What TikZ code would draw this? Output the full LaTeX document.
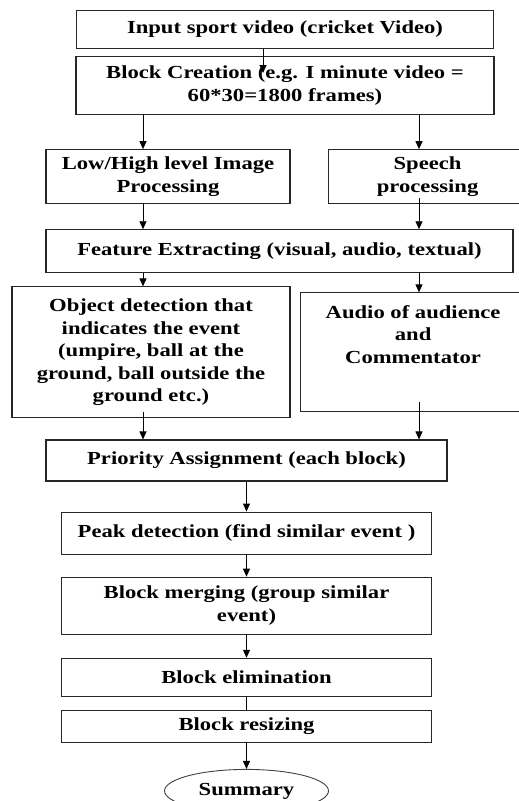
\documentclass[tikz,border=0pt]{standalone}
\usepackage{fontspec}
\setmainfont{Liberation Serif}[FakeStretch=1.23]
\usetikzlibrary{positioning, arrows.meta, shapes.geometric}

\begin{document}
\begin{tikzpicture}[
    node distance = 20pt,
    box/.style = {rectangle, draw=black!85, line width=1.1pt, align=center, inner sep=2pt, font=\fontsize{18.4}{22.5}\selectfont\bfseries},
    wide/.style = {box, minimum width=370pt},
    term/.style = {ellipse, draw=black!75, line width=0.9pt, minimum width=164pt, minimum height=43pt, inner sep=0pt, font=\fontsize{18.4}{22.5}\selectfont\bfseries},
    arrow/.style = {-{Triangle[length=8pt, width=7pt]}, line width=0.9pt},
    link/.style = {line width=0.9pt}
]
    \useasboundingbox (0,0) rectangle (519pt,-801pt);

    \node[box, minimum width=417pt, minimum height=38pt] (IN) at (285pt,-29.5pt) {Input sport video (cricket Video)};
    \node[box, below=7pt of IN, minimum width=418pt, minimum height=58pt] (BC) {Block Creation (e.g. I minute video =\\60*30=1800 frames)};

    \node[box, below right=34pt and -30pt of BC.south west, minimum width=244pt, minimum height=54pt] (IMG) {Low/High level Image\\Processing};
    \node[box, right=37pt of IMG, minimum width=199pt, minimum height=54pt] (SP) {Speech\\processing};
    \node[box, below right=25pt and 0pt of IMG.south west, minimum width=467pt, minimum height=43pt] (FE) {Feature Extracting (visual, audio, textual)};

    \node[box, below right=13pt and -34pt of FE.south west, minimum width=278pt, minimum height=131pt] (OBJ) {Object detection that\\indicates the event\\(umpire, ball at the\\ground, ball outside the\\ground etc.)};
    \node[box, right=9pt of OBJ, minimum width=226pt, minimum height=119pt] (AUD) {Audio of audience\\and\\Commentator\\[14pt]\mbox{}};

    \node[box, below right=21pt and 34pt of OBJ.south west, minimum width=401pt, minimum height=41pt] (PRI) {Priority Assignment (each block)};
    \node[wide, below=30pt of PRI, minimum height=42pt] (PEAK) {Peak detection (find similar event )};
    \node[wide, below=22pt of PEAK, minimum height=57pt] (MRG) {Block merging (group similar\\event)};
    \node[wide, below=23pt of MRG, minimum height=38pt] (ELIM) {Block elimination};
    \node[wide, below=13pt of ELIM, minimum height=32pt] (RES) {Block resizing};
    \node[term, below=26pt of RES] (SUM) {Summary};

    % x positions of the side connectors
    \coordinate (xm) at (263pt,0);
    \coordinate (xl) at (143pt,0);
    \coordinate (xr) at (419pt,0);

    \draw[arrow, shorten >=-17pt] (IN.south -| xm) -- (BC.north -| xm);
    \draw[arrow] (BC.south -| xl) -- (IMG.north -| xl);
    \draw[arrow] (BC.south -| xr) -- (SP.north -| xr);
    \draw[arrow] (IMG.south -| xl) -- (FE.north -| xl);
    \draw[arrow, shorten <=-6pt] (SP.south -| xr) -- (FE.north -| xr);
    \draw[arrow] (FE.south -| xl) -- (OBJ.north -| xl);
    \draw[arrow] (FE.south -| xr) -- (AUD.north -| xr);
    \draw[arrow, shorten <=-6pt] (OBJ.south -| xl) -- (PRI.north -| xl);
    \draw[arrow, shorten <=-10pt] (AUD.south -| xr) -- (PRI.north -| xr);

    \draw[arrow] (PRI.south -| PEAK.north) -- (PEAK.north);
    \draw[arrow] (PEAK) -- (MRG);
    \draw[arrow] (MRG) -- (ELIM);
    \draw[link] (ELIM) -- (RES);
    \draw[arrow] (RES) -- (SUM);
\end{tikzpicture}
\end{document}
